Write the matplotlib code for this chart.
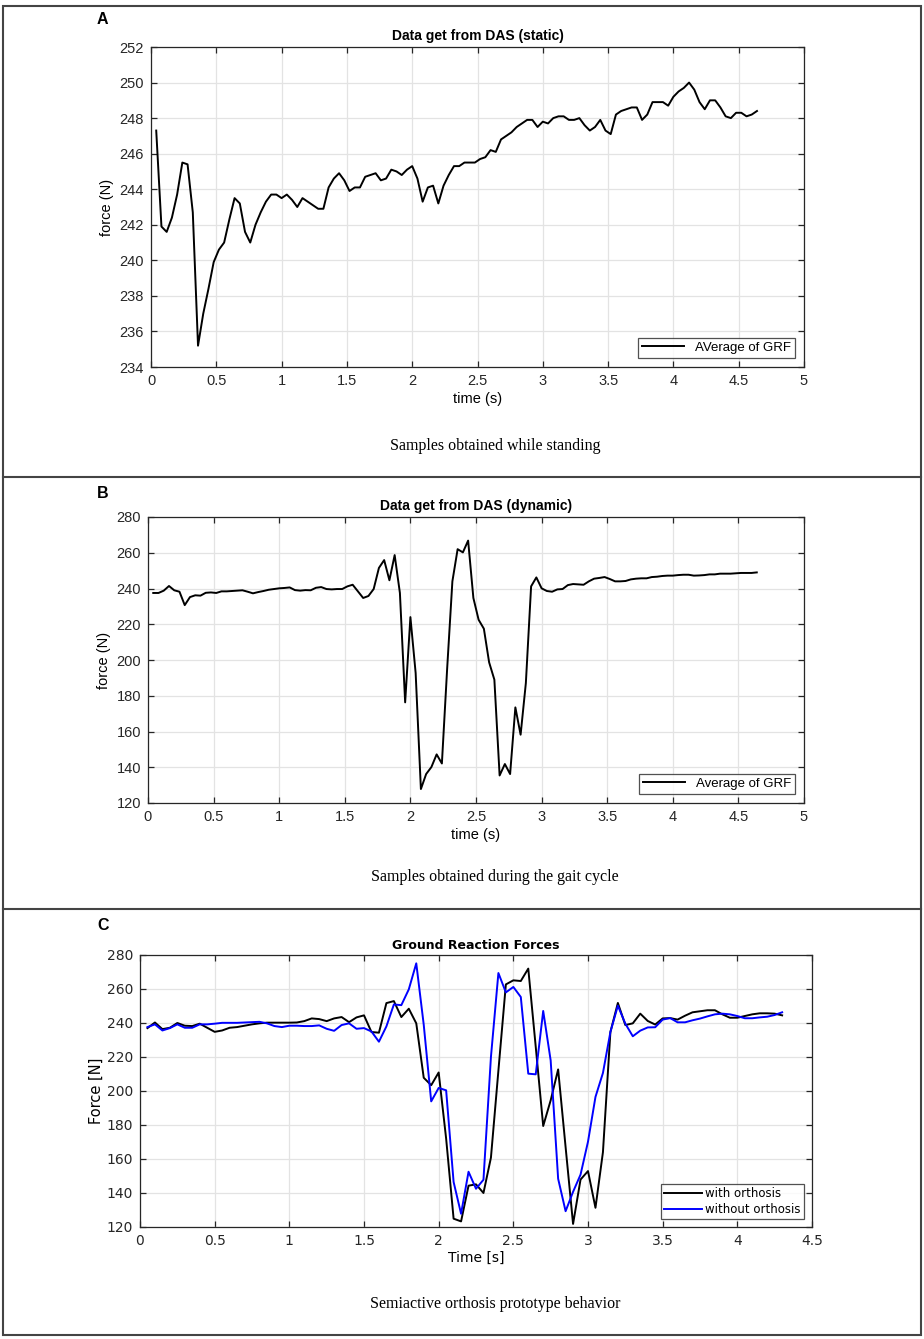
import numpy as np
import matplotlib
matplotlib.use("Agg")
import matplotlib.pyplot as plt
from matplotlib.patches import Rectangle
from matplotlib.lines import Line2D

# ---- data ----
# panel A : standing, samples every 0.04 s
time_a = np.round(np.arange(1, 117) * 0.04, 2)
grf_static = [
    247.3, 241.9, 241.6, 242.4, 243.7, 245.5, 245.4, 242.7, 235.2, 237.0,
    238.4, 239.9, 240.6, 241.0, 242.3, 243.5, 243.2, 241.6, 241.0, 242.0,
    242.7, 243.3, 243.7, 243.7, 243.5, 243.7, 243.4, 243.0, 243.5, 243.3,
    243.1, 242.9, 242.9, 244.1, 244.6, 244.9, 244.5, 243.9, 244.1, 244.1,
    244.7, 244.8, 244.9, 244.5, 244.6, 245.1, 245.0, 244.8, 245.1, 245.3,
    244.6, 243.3, 244.1, 244.2, 243.2, 244.2, 244.8, 245.3, 245.3, 245.5,
    245.5, 245.5, 245.7, 245.8, 246.2, 246.1, 246.8, 247.0, 247.2, 247.5,
    247.7, 247.9, 247.9, 247.5, 247.8, 247.7, 248.0, 248.1, 248.1, 247.9,
    247.9, 248.0, 247.6, 247.3, 247.5, 247.9, 247.3, 247.1, 248.2, 248.4,
    248.5, 248.6, 248.6, 247.9, 248.2, 248.9, 248.9, 248.9, 248.7, 249.2,
    249.5, 249.7, 250.0, 249.6, 248.9, 248.5, 249.0, 249.0, 248.6, 248.1,
    248.0, 248.3, 248.3, 248.1, 248.2, 248.4,
]

# panel B : gait cycle, samples every 0.04 s
time_b = np.round(np.arange(1, 117) * 0.04, 2)
grf_dynamic = [
    237.5, 237.5, 238.8, 241.4, 239.0, 238.2, 230.7, 235.2, 236.2, 236.0,
    237.6, 237.8, 237.5, 238.4, 238.4, 238.6, 238.8, 239.0, 238.2, 237.3,
    238.0, 238.6, 239.3, 239.7, 240.1, 240.3, 240.6, 239.1, 238.8, 239.1,
    239.0, 240.4, 240.8, 239.7, 239.5, 239.7, 239.7, 241.2, 242.1, 238.4,
    234.7, 235.8, 239.7, 251.5, 255.9, 244.6, 258.7, 237.5, 176.3, 224.0,
    192.7, 127.8, 136.2, 140.1, 147.2, 142.1, 195.0, 244.0, 262.0, 260.2,
    266.8, 234.7, 222.5, 217.5, 198.7, 189.0, 135.4, 141.8, 136.2, 173.5,
    158.2, 187.1, 241.2, 246.2, 240.1, 238.6, 238.2, 239.5, 239.7, 241.9,
    242.5, 242.3, 242.1, 244.0, 245.5, 245.9, 246.4, 245.3, 244.0, 244.0,
    244.2, 245.1, 245.5, 245.7, 245.7, 246.4, 246.6, 247.0, 247.2, 247.2,
    247.5, 247.7, 247.7, 247.2, 247.3, 247.5, 247.9, 247.9, 248.3, 248.3,
    248.3, 248.5, 248.7, 248.7, 248.7, 249.0,
]

# panel C : with / without orthosis, samples every 0.05 s
time_c = np.round(np.arange(1, 87) * 0.05, 2)
with_orthosis = [
    237.0, 240.3, 236.4, 237.2, 240.0, 238.4, 238.2, 239.6, 237.2, 234.8,
    235.6, 237.2, 237.6, 238.4, 239.2, 239.8, 240.2, 240.2, 240.2, 240.2,
    240.3, 241.1, 242.7, 242.3, 241.1, 242.7, 243.5, 240.5, 243.3, 244.5,
    234.7, 234.3, 251.7, 252.9, 243.5, 248.4, 239.8, 207.8, 203.4, 210.9,
    172.0, 124.9, 123.3, 144.3, 145.1, 140.0, 160.8, 212.0, 262.7, 265.1,
    264.7, 272.0, 226.0, 179.4, 194.5, 212.7, 167.0, 121.8, 147.9, 152.9,
    131.3, 164.0, 234.7, 251.8, 238.8, 239.8, 245.5, 241.2, 239.1, 242.7,
    242.9, 242.0, 244.3, 246.3, 246.9, 247.5, 247.5, 245.1, 243.1, 243.1,
    244.1, 245.1, 245.7, 245.7, 245.5, 244.5,
]
without_orthosis = [
    237.6, 239.2, 235.6, 237.0, 239.2, 237.2, 237.2, 239.2, 239.2, 239.6,
    240.1, 240.1, 240.1, 240.3, 240.5, 240.7, 239.8, 238.2, 237.6, 238.4,
    238.4, 238.2, 238.2, 238.6, 236.6, 235.4, 238.8, 239.8, 236.6, 237.0,
    235.0, 229.0, 238.0, 250.9, 250.5, 259.8, 275.1, 239.0, 193.9, 201.8,
    200.4, 146.5, 127.8, 152.5, 142.5, 147.8, 220.0, 269.4, 258.0, 261.2,
    255.3, 210.2, 209.8, 247.1, 218.0, 148.4, 129.3, 140.7, 150.8, 170.2,
    196.5, 210.6, 234.7, 250.2, 239.6, 232.2, 235.5, 237.4, 237.5, 242.0,
    242.9, 240.4, 240.4, 241.6, 242.6, 243.9, 245.1, 245.5, 245.1, 244.1,
    242.8, 242.8, 243.3, 243.7, 244.7, 246.3,
]

W, H = 924, 1339
fig = plt.figure(figsize=(W / 100, H / 100), dpi=100)


def axes_px(l, t, r, b):
    return fig.add_axes([l / W, 1 - b / H, (r - l) / W, (b - t) / H])


def matlab_style(ax, font, size):
    ax.grid(True, color="#e3e3e3", linewidth=0.9)
    ax.set_axisbelow(True)
    ax.tick_params(direction="in", length=4, width=0.9, top=True, right=True,
                   labelsize=size, colors="#262626", pad=5)
    for lab in ax.get_xticklabels() + ax.get_yticklabels():
        lab.set_family(font)
    for s in ax.spines.values():
        s.set_color("#262626")
        s.set_linewidth(0.9)


arial = "Liberation Sans"

# ---------------- panel A ----------------
ax1 = axes_px(151, 47, 804, 367)
ax1.plot(time_a, grf_static, color="black", linewidth=1.4, label="AVerage of GRF")
ax1.set_xlim(0, 5)
ax1.set_ylim(234, 252)
ax1.set_xticks(np.arange(0, 5.01, 0.5))
ax1.set_xticklabels(["0", "0.5", "1", "1.5", "2", "2.5", "3", "3.5", "4", "4.5", "5"])
ax1.set_yticks(np.arange(234, 252.1, 2))
matlab_style(ax1, arial, 10.5)
ax1.set_title("Data get from DAS (static)", fontsize=10, fontweight="bold",
              family=arial, pad=5)
ax1.set_xlabel("time (s)", fontsize=10.5, family=arial, labelpad=3)
ax1.set_ylabel("force (N)", fontsize=10.5, family=arial, labelpad=4)
leg1 = ax1.legend(loc="lower right", prop={"family": arial, "size": 9.5},
                  frameon=True, fancybox=False, edgecolor="#262626",
                  handlelength=3.2, borderaxespad=0.7, borderpad=0.3)
leg1.get_frame().set_linewidth(0.9)

# ---------------- panel B ----------------
ax2 = axes_px(148, 517, 804, 803)
ax2.plot(time_b, grf_dynamic, color="black", linewidth=1.4, label="Average of GRF")
ax2.set_xlim(0, 5)
ax2.set_ylim(120, 280)
ax2.set_xticks(np.arange(0, 5.01, 0.5))
ax2.set_xticklabels(["0", "0.5", "1", "1.5", "2", "2.5", "3", "3.5", "4", "4.5", "5"])
ax2.set_yticks(np.arange(120, 281, 20))
matlab_style(ax2, arial, 10.5)
ax2.set_title("Data get from DAS (dynamic)", fontsize=10, fontweight="bold",
              family=arial, pad=5)
ax2.set_xlabel("time (s)", fontsize=10.5, family=arial, labelpad=3)
ax2.set_ylabel("force (N)", fontsize=10.5, family=arial, labelpad=4)
leg2 = ax2.legend(loc="lower right", prop={"family": arial, "size": 9.5},
                  frameon=True, fancybox=False, edgecolor="#262626",
                  handlelength=3.2, borderaxespad=0.7, borderpad=0.3)
leg2.get_frame().set_linewidth(0.9)

# ---------------- panel C ----------------
ax3 = axes_px(140, 955, 812, 1227)
ax3.plot(time_c, with_orthosis, color="black", linewidth=1.4, label="with orthosis")
ax3.plot(time_c, without_orthosis, color="#0000ff", linewidth=1.4, label="without orthosis")
ax3.set_xlim(0, 4.5)
ax3.set_ylim(120, 280)
ax3.set_xticks(np.arange(0, 4.51, 0.5))
ax3.set_xticklabels(["0", "0.5", "1", "1.5", "2", "2.5", "3", "3.5", "4", "4.5"])
ax3.set_yticks(np.arange(120, 281, 20))
matlab_style(ax3, "DejaVu Sans", 10)
ax3.set_title("Ground Reaction Forces", fontsize=9, fontweight="bold",
              family="DejaVu Sans", pad=4)
ax3.set_xlabel("Time [s]", fontsize=10, family="DejaVu Sans", labelpad=2)
ax3.set_ylabel("Force [N]", fontsize=10.5, family="DejaVu Sans", labelpad=2)
leg3 = ax3.legend(loc="lower right", prop={"family": "DejaVu Sans", "size": 8.5},
                  frameon=True, fancybox=False, edgecolor="#262626",
                  handlelength=3.2, borderaxespad=0.7, borderpad=0.25,
                  labelspacing=0.25, handletextpad=0.3)
leg3.get_frame().set_linewidth(0.9)

# ---------------- frame, letters, captions ----------------
frame_col = "#444444"
fig.patches.append(Rectangle((3 / W, 1 - 1335 / H), 918 / W, 1329 / H,
                             transform=fig.transFigure, fill=False,
                             edgecolor=frame_col, linewidth=1.5))
for yline in (477, 909):
    fig.lines.append(Line2D([3 / W, 921 / W], [1 - yline / H, 1 - yline / H],
                            transform=fig.transFigure, color=frame_col, linewidth=1.5))

for letter, x, y in (("A", 97, 20), ("B", 97, 493), ("C", 97, 925)):
    fig.text(x / W, 1 - y / H, letter, fontsize=11.5, fontweight="bold",
             family=arial, va="center", ha="left")

captions = [
    ("Samples obtained while standing", 446),
    ("Samples obtained during the gait cycle", 877),
    ("Semiactive orthosis prototype behavior", 1304),
]
for txt, y in captions:
    fig.text(495 / W, 1 - y / H, txt, fontsize=11.5, family="Liberation Serif",
             ha="center", va="center")

fig.savefig("out.png", dpi=100)
